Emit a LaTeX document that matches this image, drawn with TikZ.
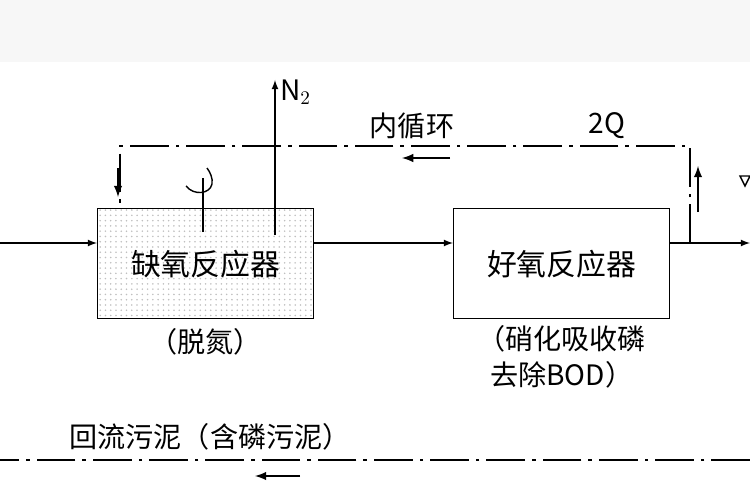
\documentclass[tikz,border=0pt]{standalone}
\usepackage{fontspec}
\setmainfont{Noto Sans CJK SC}
\usetikzlibrary{positioning,patterns}

\tikzset{
  reactor/.style={draw, thick, minimum width=4.32cm, minimum height=2.2cm},
  flow/.style={thick, -latex},
  loop/.style={thick, dash pattern=on 22pt off 4pt on 2pt off 4pt},
  tag/.style={font=\fontsize{16}{21}\selectfont, inner sep=1pt},
  dir/.style={very thick, -latex, shorten >=0pt}
}

\begin{document}
\begin{tikzpicture}[x=0.02cm, y=-0.02cm]
  \useasboundingbox (0,0) rectangle (750,500);
  \fill[gray!6] (0,0) rectangle (750,62);

  % reactors
  \node [reactor, pattern=dots, pattern color=gray!50, anchor=north west] (anox) at (97,208) {};
  \node [tag, font=\fontsize{17}{20}\selectfont] (anoxt) at (anox.center) {缺氧反应器};
  \node [reactor, anchor=north west] (oxic) at (453,208) {};
  \node [tag, font=\fontsize{17}{20}\selectfont] (oxict) at (oxic.center) {好氧反应器};
  \node [tag, below=4pt of anox.south] (anoxl) {（脱氮）};
  \node [tag, align=center, below=2pt of oxic.south] (oxicl) {（硝化吸收磷\\去除BOD）};

  % main line
  \coordinate (in) at (0,243);
  \coordinate (out) at (750,243);
  \coordinate (split) at (690,243);
  \draw [flow] (in) -- (anox.west |- in);
  \draw [flow] (anox.east |- in) -- (oxic.west |- in);
  \draw [flow] (oxic.east |- in) -- (out);

  % internal recycle
  \coordinate (tr) at (690,146);
  \coordinate (tl) at (120,146);
  \draw [loop] (split) -- (tr) -- (tl) -- (tl |- anox.north);
  \draw [dir] (118,168) -- (118,197);
  \draw [dir] (698,212) -- (698,166);
  \draw [dir] (450,158) -- (402,158);
  \node [tag] (ir) at (412,126) {内循环};
  \node [tag] (q) at (607,126) {2Q};

  % N2 off-gas and mixer
  \coordinate (n2) at (275,80);
  \draw [flow] (275,235) -- (n2);
  \node [tag, anchor=west] (n2t) at (278,92) {N$_2$};
  \draw [thick] (203,232) -- (203,178);
  \draw [thick] (186,186) .. controls (194,196) and (210,194) .. (212,184) .. controls (213,178) and (210,172) .. (207,168);

  % sludge return
  \coordinate (sl) at (0,460);
  \coordinate (sr) at (750,460);
  \draw [loop] (sr) -- (sl);
  \draw [dir] (300,476) -- (255,476);
  \node [tag] (ret) at (210,437) {回流污泥（含磷污泥）};

  % effluent mark
  \draw [thick] (740,176) -- (750,176) -- (745,186) -- cycle;
\end{tikzpicture}
\end{document}
